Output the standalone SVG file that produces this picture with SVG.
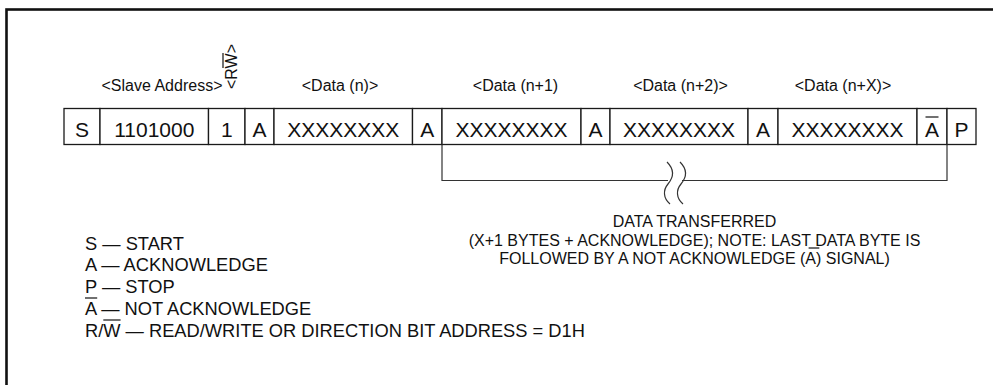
<svg xmlns="http://www.w3.org/2000/svg" width="993" height="385" viewBox="0 0 993 385">
<style>
text{font-family:"Liberation Sans",Arial,sans-serif;fill:#111}
.lbl{font-size:16px;text-anchor:middle}
.cell rect{fill:#fff;stroke:#1a1a1a;stroke-width:1.3}
.cell text{font-size:21px;text-anchor:middle}
.leg{font-size:18.3px}
.note{font-size:16px;text-anchor:middle}
.ov{stroke:#111;stroke-width:1.2}
.conn{fill:none;stroke:#333;stroke-width:1.2}
</style>
<rect width="993" height="385" fill="#fff"/>
<rect id="frame" x="6.5" y="9.5" width="1000" height="400" fill="none" stroke="#111" stroke-width="2.6"/>

<g id="labels">
<text class="lbl" x="162" y="90.5">&lt;Slave Address&gt;</text>
<g transform="translate(237,89) rotate(-90)">
<text x="0" y="0" font-size="16">&lt;RW&gt;</text>
<line class="ov" x1="21" y1="-14" x2="36" y2="-14"/>
</g>
<text class="lbl" x="340" y="90.5">&lt;Data (n)&gt;</text>
<text class="lbl" x="515.5" y="90.5">&lt;Data (n+1)</text>
<text class="lbl" x="680.5" y="90.5">&lt;Data (n+2)&gt;</text>
<text class="lbl" x="843" y="90.5">&lt;Data (n+X)&gt;</text>
</g>

<g id="cell-s" class="cell"><rect x="64" y="108.5" width="36" height="36"/><text x="82" y="137">S</text></g>
<g id="cell-addr" class="cell"><rect x="100" y="108.5" width="108.5" height="36"/><text x="154.3" y="137">1101000</text></g>
<g id="cell-rw" class="cell"><rect x="208.5" y="108.5" width="36.5" height="36"/><text x="226.8" y="137">1</text></g>
<g id="cell-a1" class="cell"><rect x="245" y="108.5" width="29" height="36"/><text x="259.5" y="137">A</text></g>
<g id="cell-d0" class="cell"><rect x="274" y="108.5" width="138.5" height="36"/><text x="343.2" y="137">XXXXXXXX</text></g>
<g id="cell-a2" class="cell"><rect x="412.5" y="108.5" width="29.5" height="36"/><text x="427.2" y="137">A</text></g>
<g id="cell-d1" class="cell"><rect x="442" y="108.5" width="139" height="36"/><text x="511.5" y="137">XXXXXXXX</text></g>
<g id="cell-a3" class="cell"><rect x="581" y="108.5" width="29" height="36"/><text x="595.5" y="137">A</text></g>
<g id="cell-d2" class="cell"><rect x="610" y="108.5" width="138" height="36"/><text x="679" y="137">XXXXXXXX</text></g>
<g id="cell-a4" class="cell"><rect x="748" y="108.5" width="30" height="36"/><text x="763" y="137">A</text></g>
<g id="cell-dx" class="cell"><rect x="778" y="108.5" width="139" height="36"/><text x="847.5" y="137">XXXXXXXX</text></g>
<g id="cell-na" class="cell"><rect x="917" y="108.5" width="30" height="36"/><text x="932" y="137">A</text><line class="ov" x1="925.5" y1="117" x2="938.5" y2="117"/></g>
<g id="cell-p" class="cell"><rect x="947" y="108.5" width="29" height="36"/><text x="961.5" y="137">P</text></g>

<g id="connectors">
<path class="conn" d="M442,144.5 V180.5 H668"/>
<path class="conn" d="M682,180.5 H947 V144.5"/>
<path class="conn" d="M667,162 C675,170 673,178 668,184 C663,190 663,198 670,204"/>
<path class="conn" d="M680,162 C688,170 686,178 681,184 C676,190 676,198 683,204"/>
</g>

<g id="note">
<text class="note" x="694.5" y="227">DATA TRANSFERRED</text>
<text class="note" x="694.5" y="245.5">(X+1 BYTES + ACKNOWLEDGE); NOTE: LAST DATA BYTE IS</text>
<text class="note" x="694.5" y="264">FOLLOWED BY A NOT ACKNOWLEDGE (A) SIGNAL)</text>
<line class="ov" x1="808.6" y1="248" x2="819.3" y2="248"/>
</g>

<g id="legend">
<text class="leg" x="85" y="249.5">S — START</text>
<text class="leg" x="85" y="271">A — ACKNOWLEDGE</text>
<text class="leg" x="85" y="293">P — STOP</text>
<text class="leg" x="85" y="314.5">A — NOT ACKNOWLEDGE</text>
<line class="ov" x1="85" y1="298" x2="97.2" y2="298"/>
<text class="leg" x="85" y="336.5">R/W — READ/WRITE OR DIRECTION BIT ADDRESS = D1H</text>
<line class="ov" x1="103.3" y1="320" x2="120.6" y2="320"/>
</g>
</svg>
